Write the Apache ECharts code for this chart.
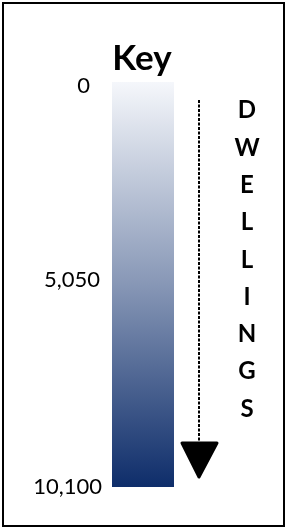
<!DOCTYPE html>
<html lang="en">
<head>
    <meta charset="UTF-8">
    <title>Key</title>
    <style>
        html, body { margin: 0; padding: 0; background: #fff; }
        #chart { width: 286px; height: 529px; }
    </style>
</head>
<body>
<div id="chart"></div>
<script src="https://cdn.jsdelivr.net/npm/echarts@6/dist/echarts.min.js"></script>
<script type="text/javascript">
    // key data
    var categories = ['dwellings'];
    var values = [10100];
    var tickLabels = ['0', '5,050', '10,100'];
    var axisMin = 0, axisMax = 10100, axisStep = 5050;
    var sideLetters = 'DWELLINGS'.split('');

    var myChart = echarts.init(document.getElementById('chart'));
    var font = 'Lato, "Open Sans", sans-serif';

    var option = {
        backgroundColor: '#fff',
        animation: false,
        title: [{
            text: 'Key',
            left: 137,
            top: 36,
            textAlign: 'center',
            textStyle: { fontFamily: font, fontSize: 35, fontWeight: 'bold', color: '#000' }
        }, {
            text: sideLetters.join('\n'),
            left: 242,
            top: 87,
            textAlign: 'center',
            textStyle: { fontFamily: font, fontSize: 24, fontWeight: 'bold', color: '#000', lineHeight: 37.3 }
        }],
        grid: { left: 112, top: 82, width: 62, height: 405 },
        xAxis: {
            type: 'category',
            data: categories,
            show: false
        },
        yAxis: {
            type: 'value',
            inverse: true,
            min: axisMin,
            max: axisMax,
            interval: axisStep,
            splitLine: { show: false },
            axisLine: { show: false },
            axisTick: { show: false },
            axisLabel: {
                margin: 10,
                fontFamily: font,
                fontSize: 22,
                color: '#000',
                formatter: function (v) {
                    var i = Math.round((v - axisMin) / axisStep);
                    if (i === 0) return '{top|' + tickLabels[i] + '}';
                    if (i === 1) return '{mid|' + tickLabels[i] + '}';
                    return tickLabels[i];
                },
                rich: {
                    top: { fontFamily: font, fontSize: 22, color: '#000', padding: [8, 12, 0, 0] },
                    mid: { fontFamily: font, fontSize: 22, color: '#000', padding: [0, 2, 10, 0] }
                }
            }
        },
        series: [{
            type: 'bar',
            data: values,
            barWidth: '100%',
            itemStyle: {
                color: new echarts.graphic.LinearGradient(0, 0, 0, 1, [
                    { offset: 0, color: '#f5f7fb' },
                    { offset: 0.5, color: '#8797b6' },
                    { offset: 1, color: '#0e2d6a' }
                ])
            }
        }],
        graphic: [{
            type: 'rect',
            shape: { x: 3, y: 3, width: 281, height: 523 },
            style: { fill: null, stroke: '#000', lineWidth: 2 }
        }, {
            type: 'line',
            shape: { x1: 199, y1: 100, x2: 199, y2: 444 },
            style: { stroke: '#000', lineWidth: 2, lineDash: [3, 1.5] }
        }, {
            type: 'polygon',
            shape: { points: [[182, 443], [217, 443], [199, 477]] },
            style: { fill: '#000', stroke: '#000', lineWidth: 3, lineJoin: 'round' }
        }]
    };
    myChart.setOption(option);
</script>
</body>
</html>
